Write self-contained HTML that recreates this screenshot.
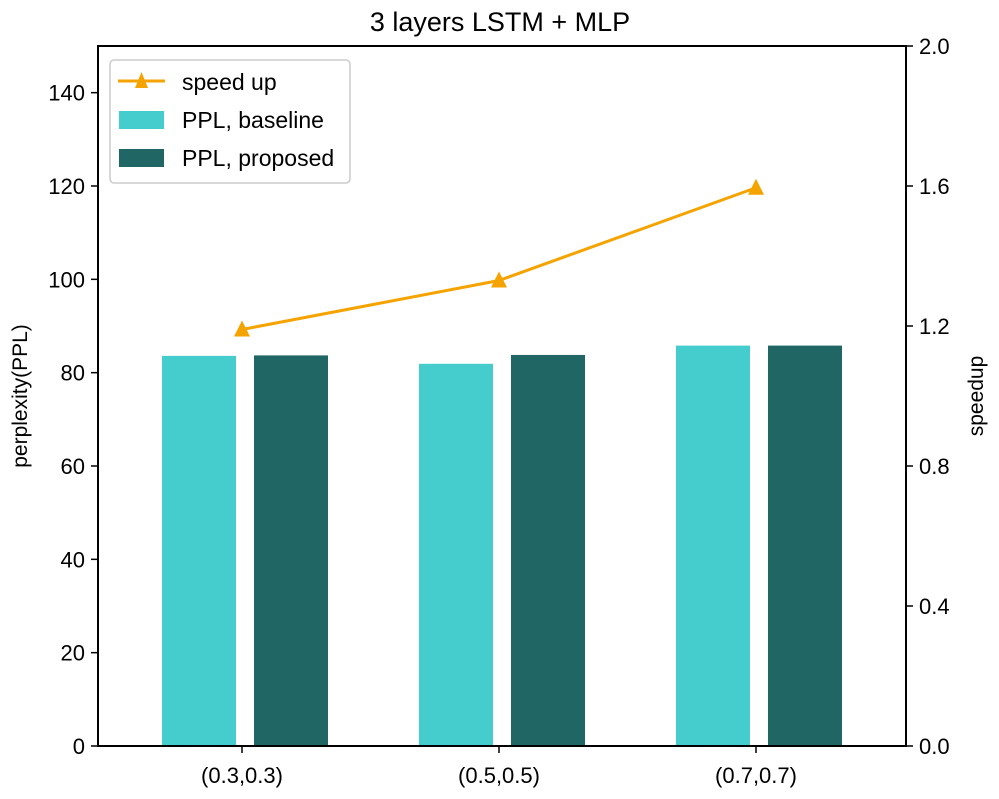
<!DOCTYPE html>
<html><head><meta charset="utf-8"><style>
body{margin:0;background:#fff;}
svg text{font-family:"Liberation Sans","DejaVu Sans",sans-serif;fill:#000;}
</style></head><body>
<svg id="chart" width="999" height="794" viewBox="0 0 999 794">
<text x="500" y="31" font-size="27" text-anchor="middle">3 layers LSTM + MLP</text>
<g id="bars"></g>
<g id="line"></g>
<rect x="98" y="46" width="808" height="700" fill="none" stroke="#000" stroke-width="2"/>
<g id="axes"></g>
<text transform="translate(27,396) rotate(-90)" font-size="21" text-anchor="middle">perplexity(PPL)</text>
<text transform="translate(983,396) rotate(-90)" font-size="21" text-anchor="middle">speedup</text>
<g>
<rect x="110" y="60" width="240" height="123" rx="4" fill="#fff" fill-opacity="0.85" stroke="#ccc" stroke-width="1.5"/>
<line x1="118" y1="81" x2="165" y2="81" stroke="#f5a300" stroke-width="3"/>
<polygon points="141.5,72 148,88 135,88" fill="#f5a300"/>
<text x="182" y="90" font-size="23">speed up</text>
<rect x="119" y="111" width="45" height="18" fill="#45cccc"/>
<text x="182" y="128" font-size="23">PPL, baseline</text>
<rect x="119" y="149" width="45" height="18" fill="#1f6664"/>
<text x="182" y="166" font-size="23">PPL, proposed</text>
</g>
</svg>
<script>
const categories=["(0.3,0.3)","(0.5,0.5)","(0.7,0.7)"];
const baseline=[83.6,81.9,85.8];
const proposed=[83.7,83.8,85.8];
const speedup=[1.19,1.33,1.595];
const leftTicks=[0,20,40,60,80,100,120,140];
const rightTicks=["0.0","0.4","0.8","1.2","1.6","2.0"];
const NS="http://www.w3.org/2000/svg";
const yL=v=>746-v*(700/150);
const yR=v=>746-v*350;
const xC=i=>242+i*257;
function mk(tag,attrs,parent){const e=document.createElementNS(NS,tag);for(const k in attrs)e.setAttribute(k,attrs[k]);parent.appendChild(e);return e;}
const bars=document.getElementById('bars'),line=document.getElementById('line'),axes=document.getElementById('axes');
categories.forEach((c,i)=>{
  let b=mk('rect',{x:xC(i)-80,y:yL(baseline[i]),width:74,height:746-yL(baseline[i]),fill:'#45cccc'},bars);
  
  
  let p=mk('rect',{x:xC(i)+12,y:yL(proposed[i]),width:74,height:746-yL(proposed[i]),fill:'#1f6664'},bars);
  
  
  let t=mk('line',{x1:xC(i),x2:xC(i),y1:746,y2:753,stroke:'#000','stroke-width':1.5},axes);
  
  
  let l=mk('text',{x:xC(i),y:783,'font-size':22,'text-anchor':'middle'},axes);l.textContent=c;
  
  
});
let pl=mk('polyline',{points:speedup.map((v,i)=>xC(i)+','+yR(v)).join(' '),fill:'none',stroke:'#f5a300','stroke-width':3},line);


speedup.forEach((v,i)=>{const x=xC(i),y=yR(v);
  let m=mk('polygon',{points:`${x},${y-9} ${x+8},${y+7} ${x-8},${y+7}`,fill:'#f5a300'},line);
  
  
});
leftTicks.forEach(v=>{
  let t=mk('line',{x1:91,x2:98,y1:yL(v),y2:yL(v),stroke:'#000','stroke-width':1.5},axes);
  
  
  let l=mk('text',{x:85,y:yL(v)+8,'font-size':22,'text-anchor':'end'},axes);l.textContent=v;
  
  
});
rightTicks.forEach(s=>{const y=yR(parseFloat(s));
  let t=mk('line',{x1:906,x2:913,y1:y,y2:y,stroke:'#000','stroke-width':1.5},axes);
  
  
  let l=mk('text',{x:919,y:y+8,'font-size':22},axes);l.textContent=s;
  
  
});
</script>
</body></html>
